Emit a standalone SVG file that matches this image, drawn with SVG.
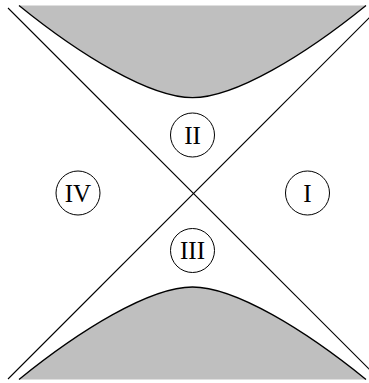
<svg xmlns="http://www.w3.org/2000/svg" width="369" height="383" viewBox="0 0 369 383">
<style>
.region{fill:#bfbfbf;stroke:none}
.edge{fill:none;stroke:#000;stroke-width:1.3}
.line{stroke:#000;stroke-width:1.1;fill:none}
.node circle{fill:#fff;stroke:#000;stroke-width:1}
.node text{font-family:"Liberation Serif","Times New Roman",serif;font-size:25px;text-anchor:middle;fill:#000}
</style>
<rect width="369" height="383" fill="#fff"/>
<g id="shading">
<path class="region" d="M19,5.5 C80,55 150,97.7 192.5,97.7 C235,97.7 305,55 366,5.5 Z"/>
<path class="edge" d="M19,5.5 C80,55 150,97.7 192.5,97.7 C235,97.7 305,55 366,5.5"/>
<path class="region" d="M19,379.5 C80,330 150,287 192.5,287 C235,287 305,330 366,379.5 Z"/>
<path class="edge" d="M19,379.5 C80,330 150,287 192.5,287 C235,287 305,330 366,379.5"/>
</g>
<g id="connectors">
<line class="line" x1="8" y1="8" x2="379" y2="379"/>
<line class="line" x1="8" y1="379" x2="379" y2="8"/>
</g>
<g id="node-II" class="node"><circle cx="192.5" cy="135" r="22"/><text x="192.5" y="143.5">II</text></g>
<g id="node-III" class="node"><circle cx="192.5" cy="250.5" r="22"/><text x="192.5" y="259">III</text></g>
<g id="node-IV" class="node"><circle cx="78" cy="193" r="22"/><text x="78" y="201.5">IV</text></g>
<g id="node-I" class="node"><circle cx="307.5" cy="193" r="22"/><text x="307.5" y="201.5">I</text></g>
</svg>
